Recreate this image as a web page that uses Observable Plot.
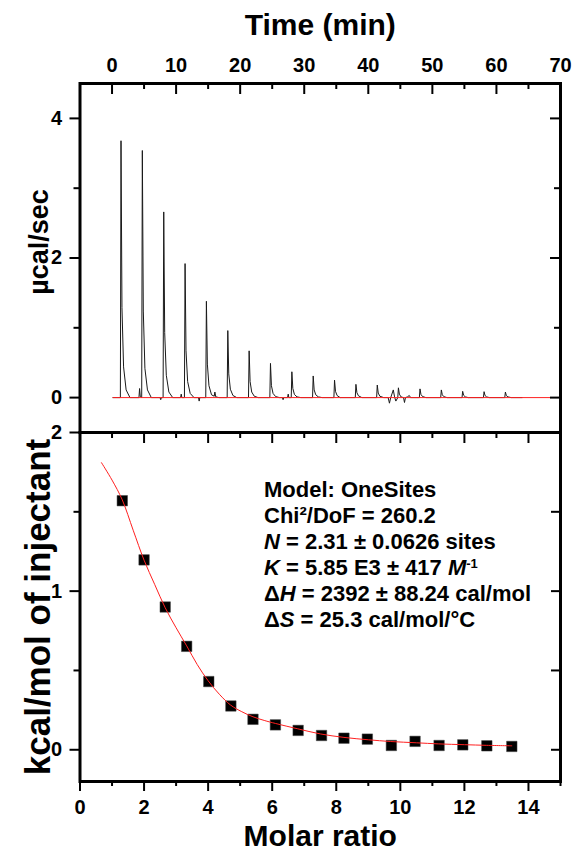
<!DOCTYPE html>
<html><head><meta charset="utf-8">
<script src="https://cdn.jsdelivr.net/npm/d3@7"></script>
<script src="https://cdn.jsdelivr.net/npm/@observablehq/plot@0.6"></script>
<style>
body{margin:0;background:#fff;}
#chart svg{display:block;}
</style></head><body><div id="chart"></div>
<script>
// ---- Raw thermogram (Time, min ; µcal/sec) ----
const thermoTime = [0.15,1.3,1.4,1.55,1.8,2.2,2.8,4.2,4.3,4.4,4.63,4.73,4.88,5.13,5.53,6.13,7.5,7.6,7.7,7.97,8.07,8.22,8.47,8.87,9.47,10.7,10.8,10.9,11.3,11.4,11.55,11.8,12.2,12.8,13.5,13.6,13.7,14.63,14.73,14.88,15.13,15.53,15.95,16.05,16.2,16.7,17.97,18.07,18.22,18.47,18.87,19.47,21.3,21.4,21.55,21.8,22.2,22.8,24.63,24.73,24.88,25.13,25.53,26.13,26.6,26.7,26.8,27.4,27.5,27.6,27.97,28.07,28.22,28.47,28.87,29.47,31.3,31.4,31.55,31.8,32.2,32.8,34.63,34.73,34.88,35.13,35.6,37.97,38.07,38.22,38.47,39.0,41.3,41.4,41.55,41.8,42.4,43.1,43.3,43.5,43.9,44.1,44.3,44.6,44.7,44.85,45.1,45.5,45.65,45.8,46.1,46.4,46.6,47.97,48.07,48.22,48.47,49.0,51.3,51.4,51.55,51.8,52.3,54.63,54.73,54.88,55.13,55.6,57.97,58.07,58.22,58.47,58.9,61.3,61.4,61.55,61.8,62.3,64.0];
const thermoPower = [0,0,3.68,1.29,0.44,0.11,0,0,0.13,0.02,0,3.54,1.24,0.42,0.11,0,0,-0.03,0,0,2.66,0.93,0.32,0.08,0,0,0.05,0,0,1.92,0.67,0.23,0.06,0,0,-0.05,0,0,1.38,0.48,0.17,0.04,0.02,0.08,0.01,0,0,0.96,0.34,0.12,0.03,0,0,0.67,0.23,0.08,0.02,0,0,0.49,0.17,0.06,0.015,0,0,-0.03,0,0,0.05,0,0,0.37,0.13,0.045,0.01,0,0,0.31,0.11,0.04,0.01,0,0,0.25,0.09,0.03,0,0,0.19,0.07,0.025,0,0,0.18,0.065,0.02,0,0,-0.08,0,0.11,0.01,-0.05,0,0.14,0.05,0.01,0,-0.07,0,0.01,0.03,0,0,0.125,0.045,0.015,0,0,0.11,0.04,0.013,0,0,0.09,0.033,0.011,0,0,0.085,0.03,0.01,0,0,0.08,0.028,0.01,0,0];
const baselineTime = [0.15, 68.4];
const baselinePower = [0, 0];

// ---- Integrated heats (Molar ratio ; kcal/mol of injectant) ----
const molarRatio = [1.32,2.0,2.66,3.33,4.02,4.71,5.40,6.10,6.81,7.54,8.24,8.97,9.72,10.46,11.21,11.95,12.70,13.48];
const heat = [1.57,1.197,0.90,0.652,0.43,0.276,0.192,0.157,0.122,0.090,0.073,0.067,0.027,0.053,0.027,0.031,0.025,0.021];

// ---- One-site fit curve ----
const fitRatio = [0.67,1.0,1.32,1.66,2.0,2.33,2.66,3.0,3.33,3.66,4.0,4.35,4.7,5.05,5.4,5.75,6.1,6.8,7.5,8.24,9.0,9.7,10.5,11.2,12.0,12.7,13.48];
const fitHeat = [1.81,1.70,1.575,1.384,1.195,1.043,0.895,0.769,0.655,0.537,0.435,0.35,0.282,0.24,0.208,0.185,0.166,0.132,0.1,0.078,0.063,0.052,0.044,0.037,0.032,0.028,0.025];

// ---- Ticks ----
const timeTicks = [0,10,20,30,40,50,60,70];
const timeMinor = [5,15,25,35,45,55,65];
const powerTicks = [0,2,4];
const powerMinor = [1,3];
const ratioTicks = [0,2,4,6,8,10,12,14];
const ratioMinor = [1,3,5,7,9,11,13,15];
const heatTicks = [0,1,2];
const heatMinor = [0.5,1.5];

// ---- Fit annotation ----
const fitLines = [
  [{t:"Model: OneSites"}],
  [{t:"Chi²/DoF = 260.2"}],
  [{t:"N",i:1},{t:" = 2.31 ± 0.0626 sites"}],
  [{t:"K",i:1},{t:" = 5.85 E3 ± 417 "},{t:"M",i:1},{t:"-1",s:1}],
  [{t:"Δ"},{t:"H",i:1},{t:" = 2392 ± 88.24 cal/mol"}],
  [{t:"Δ"},{t:"S",i:1},{t:" = 25.3 cal/mol/°C"}]
];
const annotRatio = 5.76, annotHeat = 1.59;

const FONT = "'Liberation Sans', Arial, sans-serif";
const W = 577, ML = 79.5, MR = 17, PH = 349;
const PW = W - ML - MR;

const thermo = thermoTime.map((t,i)=>({t, p: thermoPower[i]}));
const base = baselineTime.map((t,i)=>({t, p: baselinePower[i]}));
const pts = molarRatio.map((x,i)=>({x, y: heat[i]}));
const fit = fitRatio.map((x,i)=>({x, y: fitHeat[i]}));

const fmt = d => String(d);
const common = {fontWeight:"bold", fontSize:20, strokeWidth:2, label:null};
const titleOpts = {fontSize:30, fontWeight:"bold", lineAnchor:"middle", textAnchor:"middle"};

const topPlot = Plot.plot({
  width: W, height: 432, marginLeft: ML, marginRight: MR, marginTop: 83, marginBottom: 0,
  style: {fontFamily: FONT, background: "white", overflow: "visible", color: "black"},
  x: {domain: [-5, 70]},
  y: {domain: [-0.5, 4.5]},
  marks: [
    Plot.line(thermo, {x:"t", y:"p", stroke:"#1a1a1a", strokeWidth:1}),
    Plot.line(base, {x:"t", y:"p", stroke:"#ff2020", strokeWidth:1}),
    Plot.axisX(timeTicks, {...common, anchor:"top", tickSize:0, tickPadding:12, tickFormat:fmt}),
    Plot.tickX(timeTicks, {x:d=>d, insetBottom: PH-11, stroke:"black", strokeWidth:2}),
    Plot.tickX(timeMinor, {x:d=>d, insetBottom: PH-6, stroke:"black", strokeWidth:2}),
    Plot.axisY(powerTicks, {...common, anchor:"left", tickSize:10, tickPadding:8, tickFormat:fmt}),
    Plot.axisY(powerMinor, {...common, anchor:"left", tickSize:6, tickFormat:()=>""}),
    Plot.tickY(powerTicks, {y:d=>d, insetLeft: PW-10, stroke:"black", strokeWidth:2}),
    Plot.tickY(powerMinor, {y:d=>d, insetLeft: PW-6, stroke:"black", strokeWidth:2}),
    Plot.frame({stroke:"black", strokeWidth:3}),
    Plot.text(["Time (min)"], {...titleOpts, frameAnchor:"top", dy:-58}),
    Plot.text(["µcal/sec"], {...titleOpts, fontSize:27, frameAnchor:"left", rotate:-90, dx:-41, dy:-16})
  ]
});

const botPlot = Plot.plot({
  width: W, height: 420, marginLeft: ML, marginRight: MR, marginTop: 0, marginBottom: 71,
  style: {fontFamily: FONT, background: "white", overflow: "visible", color: "black"},
  x: {domain: [0, 15]},
  y: {domain: [-0.2, 2]},
  marks: [
    Plot.dot(pts, {x:"x", y:"y", symbol:"square", r:5.9, fill:"black", stroke:"#444", strokeWidth:0.5}),
    Plot.line(fit, {x:"x", y:"y", stroke:"#ff2020", strokeWidth:1, curve:"catmull-rom"}),
    Plot.axisX(ratioTicks, {...common, anchor:"bottom", tickSize:10, tickPadding:8, tickFormat:fmt}),
    Plot.axisX(ratioMinor, {...common, anchor:"bottom", tickSize:5, tickFormat:()=>""}),
    Plot.tickX(ratioTicks, {x:d=>d, insetBottom: PH-11, stroke:"black", strokeWidth:2}),
    Plot.tickX(ratioMinor, {x:d=>d, insetBottom: PH-6, stroke:"black", strokeWidth:2}),
    Plot.axisY(heatTicks, {...common, anchor:"left", tickSize:10, tickPadding:8, tickFormat:fmt}),
    Plot.axisY(heatMinor, {...common, anchor:"left", tickSize:6, tickFormat:()=>""}),
    Plot.tickY([...heatTicks, ...heatMinor], {y:d=>d, insetLeft: PW-9, stroke:"black", strokeWidth:2}),
    Plot.frame({stroke:"black", strokeWidth:3}),
    Plot.text(["Molar ratio"], {...titleOpts, frameAnchor:"bottom", dy:55}),
    Plot.text(["kcal/mol of injectant"], {...titleOpts, fontSize:35, frameAnchor:"left", rotate:-90, dx:-41, dy:0})
  ]
});

// Fit-parameter box with italic symbols and superscript
{
  const sx = botPlot.scale("x"), sy = botPlot.scale("y");
  const g = d3.select(botPlot).append("g")
    .attr("font-family", FONT).attr("font-size", 22).attr("font-weight", "bold")
    .attr("fill", "black").attr("text-anchor", "start");
  fitLines.forEach((segs, i) => {
    const txt = g.append("text").attr("x", sx.apply(annotRatio)).attr("y", sy.apply(annotHeat) + i * 26);
    segs.forEach(s => {
      const ts = txt.append("tspan").text(s.t);
      if (s.i) ts.attr("font-style", "italic");
      if (s.s) ts.attr("font-size", 13).attr("baseline-shift", "super");
    });
  });
}

document.getElementById("chart").append(topPlot, botPlot);
</script>
</body></html>
